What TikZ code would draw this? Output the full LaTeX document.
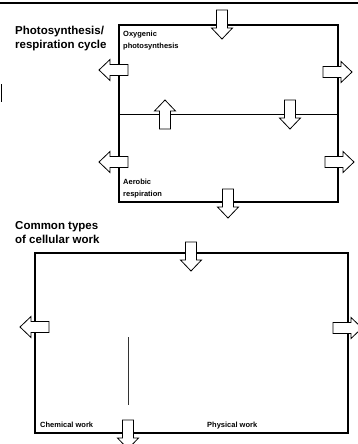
\documentclass[tikz,border=0pt]{standalone}
\usepackage{fontspec}
\setsansfont{Liberation Sans}
\tikzset{
  bigarrow/.pic={\draw[fill=white,line width=0.8pt] (0,-5.5) -- (18,-5.5) -- (18,-10.5) -- (29,0) -- (18,10.5) -- (18,5.5) -- (0,5.5) -- cycle;},
  boxline/.style={line width=1.3pt},
  tag/.style={anchor=north west,inner sep=0pt,align=left,font=\fontsize{7.5}{11.5}\selectfont\sffamily\bfseries},
  heading/.style={anchor=north west,inner sep=0pt,align=left,font=\fontsize{11.5}{14}\selectfont\sffamily\bfseries}
}
\begin{document}
\begin{tikzpicture}[x=1pt,y=-1pt]
   \useasboundingbox (0,0) rectangle (358,444);
   \clip (0,0) rectangle (358,444);
   \draw[line width=2.5pt] (0,3) -- (358,3);
   \draw[line width=1.5pt] (1.5,84) -- (1.5,102);
   % photosynthesis / respiration
   \draw (15,26) node[heading] (cycle) {Photosynthesis/\\respiration cycle};
   \draw[boxline] (119,25) rectangle (338,202);
   \draw[line width=0.9pt] (119,114) -- (338,114);
   \draw (123,31) node[tag] (oxy) {Oxygenic\\photosynthesis};
   \draw (123,179) node[tag] (aer) {Aerobic\\respiration};
   \pic[rotate=-90] at (222,10) {bigarrow};
   \pic at (323,72) {bigarrow};
   \pic[rotate=180] at (128,70) {bigarrow};
   \pic[rotate=90] at (165,129) {bigarrow};
   \pic[rotate=-90] at (290,100) {bigarrow};
   \pic[rotate=180] at (128,162) {bigarrow};
   \pic at (325,162) {bigarrow};
   \pic[rotate=-90] at (228,189) {bigarrow};
   % cellular work
   \draw (15,221) node[heading] (work) {Common types\\of cellular work};
   \draw[boxline] (35,253) rectangle (348,433);
   \draw[line width=0.8pt,black!80] (128,337) -- (128,405);
   \draw (40,422) node[tag] (chem) {Chemical work};
   \draw (207,422) node[tag] (phys) {Physical work};
   \pic[rotate=-90] at (191,242) {bigarrow};
   \pic[rotate=180] at (49,327) {bigarrow};
   \pic at (333,328) {bigarrow};
   \pic[rotate=-90] at (128,420) {bigarrow};
\end{tikzpicture}
\end{document}
